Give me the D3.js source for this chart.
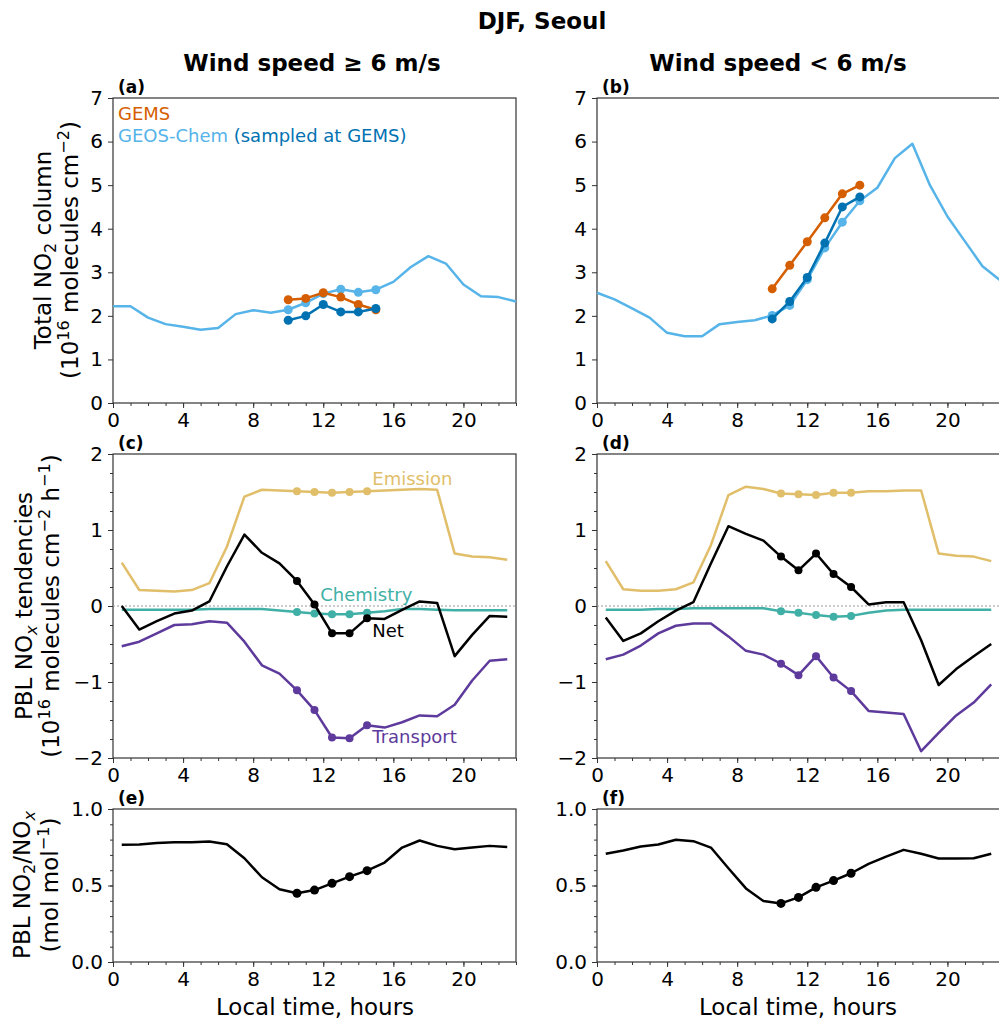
<!DOCTYPE html>
<html>
<head>
<meta charset="utf-8">
<script src="https://cdn.jsdelivr.net/npm/d3@7"></script>
<style>
body { margin: 0; background: #fff; }
text { font-family: "DejaVu Sans", sans-serif; fill: #000; }
</style>
</head>
<body>
<svg id="chart" width="999" height="1020"></svg>
<script>
// ---- data ----
const hours = [0,1,2,3,4,5,6,7,8,9,10,11,12,13,14,15,16,17,18,19,20,21,22,23];
const halfHours = [0.5,1.5,2.5,3.5,4.5,5.5,6.5,7.5,8.5,9.5,10.5,11.5,12.5,13.5,14.5,15.5,16.5,17.5,18.5,19.5,20.5,21.5,22.5];
const gemsHours = [10,11,12,13,14,15];
const xTicks = [0,4,8,12,16,20];

// (a) wind >= 6 m/s, total NO2 column
const gcA = [2.22,2.22,1.96,1.81,1.75,1.68,1.72,2.04,2.13,2.07,2.14,2.30,2.51,2.61,2.54,2.60,2.78,3.12,3.37,3.20,2.72,2.45,2.43,2.33];
const gemsA = [2.37,2.40,2.53,2.43,2.26,2.14];
const gcSampA = [1.90,2.00,2.26,2.09,2.09,2.17];
// (b) wind < 6 m/s
const gcB = [2.53,2.38,2.17,1.96,1.61,1.53,1.53,1.81,1.86,1.90,2.01,2.24,2.83,3.56,4.15,4.64,4.94,5.62,5.95,5.00,4.28,3.71,3.14,2.82];
const gemsB = [2.62,3.16,3.70,4.25,4.80,5.00];
const gcSampB = [1.93,2.33,2.88,3.67,4.50,4.73];

// (c) PBL NOx tendencies, wind >= 6
const emisC = [0.57,0.21,0.20,0.19,0.21,0.30,0.78,1.44,1.53,1.52,1.51,1.50,1.49,1.50,1.51,1.52,1.53,1.54,1.53,0.69,0.65,0.64,0.61];
const chemC = [-0.05,-0.05,-0.05,-0.05,-0.05,-0.04,-0.04,-0.04,-0.04,-0.06,-0.08,-0.10,-0.11,-0.11,-0.09,-0.07,-0.04,-0.04,-0.05,-0.055,-0.055,-0.055,-0.055];
const netC = [0.0,-0.31,-0.20,-0.10,-0.06,0.06,0.52,0.94,0.70,0.56,0.33,0.02,-0.36,-0.36,-0.16,-0.17,-0.05,0.06,0.04,-0.66,-0.38,-0.13,-0.14];
const transC = [-0.53,-0.47,-0.36,-0.25,-0.24,-0.20,-0.22,-0.47,-0.78,-0.89,-1.11,-1.37,-1.73,-1.74,-1.57,-1.60,-1.53,-1.44,-1.45,-1.30,-0.98,-0.72,-0.70];
// (d) wind < 6
const emisD = [0.59,0.22,0.20,0.20,0.22,0.31,0.80,1.46,1.57,1.54,1.48,1.47,1.46,1.49,1.49,1.51,1.51,1.52,1.52,0.69,0.66,0.65,0.59];
const chemD = [-0.05,-0.05,-0.05,-0.04,-0.04,-0.03,-0.03,-0.03,-0.03,-0.03,-0.07,-0.09,-0.12,-0.14,-0.13,-0.09,-0.06,-0.05,-0.05,-0.05,-0.05,-0.05,-0.05];
const netD = [-0.15,-0.46,-0.36,-0.20,-0.06,0.05,0.56,1.05,0.95,0.86,0.65,0.47,0.69,0.42,0.25,0.02,0.05,0.05,-0.45,-1.04,-0.83,-0.66,-0.50];
const transD = [-0.70,-0.64,-0.52,-0.36,-0.26,-0.23,-0.23,-0.40,-0.59,-0.64,-0.76,-0.91,-0.66,-0.94,-1.12,-1.38,-1.40,-1.42,-1.91,-1.67,-1.44,-1.27,-1.03];

// (e),(f) PBL NO2/NOx
const ratioE = [0.766,0.768,0.777,0.783,0.783,0.788,0.770,0.678,0.554,0.475,0.449,0.470,0.514,0.558,0.597,0.650,0.748,0.794,0.759,0.737,0.748,0.759,0.751];
const ratioF = [0.707,0.729,0.755,0.768,0.799,0.790,0.748,0.613,0.481,0.398,0.383,0.422,0.488,0.532,0.580,0.641,0.689,0.733,0.707,0.676,0.676,0.678,0.707];

// ---- layout ----
const svg = d3.select("#chart");
const colX = [[113, 516], [597, 1000]];
const rowY = [[98, 403], [454, 758], [809, 962]];
const cLightBlue = "#56b4e9", cDarkBlue = "#0072b2", cOrange = "#d55e00";
const cEmis = "#e1be6a", cChem = "#40b0a6", cTrans = "#5d3a9b";

const rows = [
  { domain: [0, 7], ticks: [0,1,2,3,4,5,6,7], fmt: d3.format("d"), minor: [] },
  { domain: [-2, 2], ticks: [-2,-1,0,1,2], fmt: d3.format("d"), minor: d3.range(-2, 2.01, 0.25) },
  { domain: [0, 1], ticks: [0,0.5,1], fmt: d3.format(".1f"), minor: d3.range(0, 1.01, 0.1) }
];

// text with sub/superscripts: parts = [[str, kind]]
function rich(sel, parts, size) {
  let shift = 0;
  parts.forEach(([s, kind, italic]) => {
    const target = kind === "sup" ? -0.38 * size : kind === "sub" ? 0.22 * size : 0;
    const t = sel.append("tspan").text(s).attr("dy", target - shift)
      .style("font-size", (kind ? size * 0.7 : size) + "px");
    if (italic) t.style("font-style", "italic");
    shift = target;
  });
}

function makePanel(col, row, label) {
  const [x0, x1] = colX[col];
  const [y0, y1] = rowY[row];
  const cfg = rows[row];
  const x = d3.scaleLinear().domain([0, 23]).range([x0, x1]);
  const y = d3.scaleLinear().domain(cfg.domain).range([y1, y0]);
  const g = svg.append("g");

  // minor ticks
  g.append("g").attr("transform", `translate(0,${y1})`)
    .call(d3.axisBottom(x).tickValues(hours).tickSize(3).tickFormat("").tickSizeOuter(0));
  if (cfg.minor.length)
    g.append("g").attr("transform", `translate(${x0},0)`)
      .call(d3.axisLeft(y).tickValues(cfg.minor).tickSize(3).tickFormat("").tickSizeOuter(0));
  // major ticks
  g.append("g").attr("class", "ax").attr("transform", `translate(0,${y1})`)
    .call(d3.axisBottom(x).tickValues(xTicks).tickSize(5).tickPadding(5).tickSizeOuter(0));
  g.append("g").attr("class", "ax").attr("transform", `translate(${x0},0)`)
    .call(d3.axisLeft(y).tickValues(cfg.ticks).tickFormat(cfg.fmt).tickSize(5).tickPadding(5).tickSizeOuter(0));
  g.selectAll(".domain").remove();
  g.selectAll(".tick line").attr("stroke", "#333").attr("stroke-width", 1);
  g.selectAll(".ax .tick text").style("font-size", "20px").style("font-family", "DejaVu Sans");

  g.append("rect").attr("x", x0).attr("y", y0).attr("width", x1 - x0).attr("height", y1 - y0)
    .attr("fill", "none").attr("stroke", "#333").attr("stroke-width", 1.2);

  svg.append("text").attr("x", x0 + 5).attr("y", y0 - 5)
    .style("font-size", "17px").style("font-weight", "bold").text(label);

  const plot = svg.append("g");
  return { x, y, plot };
}

function series(p, xs, ys, color, width, dotXs, dotYs, r) {
  const line = d3.line().x(d => p.x(d[0])).y(d => p.y(d[1]));
  p.plot.append("path").datum(d3.zip(xs, ys)).attr("d", line)
    .attr("fill", "none").attr("stroke", color).attr("stroke-width", width)
    .attr("stroke-linejoin", "round");
  if (dotXs) {
    p.plot.selectAll(null).data(d3.zip(dotXs, dotYs)).enter().append("circle")
      .attr("cx", d => p.x(d[0])).attr("cy", d => p.y(d[1])).attr("r", r).attr("fill", color);
  }
}

function pick(xs, ys, sel) { return sel.map(h => ys[xs.indexOf(h)]); }

// ---- row 1: total NO2 column ----
[[gcA, gemsA, gcSampA, "(a)"], [gcB, gemsB, gcSampB, "(b)"]].forEach(([gc, gems, samp, lab], i) => {
  const p = makePanel(i, 0, lab);
  series(p, hours, gc, cLightBlue, 2.5, gemsHours, pick(hours, gc, gemsHours), 4.5);
  series(p, gemsHours, gems, cOrange, 2.5, gemsHours, gems, 4.5);
  series(p, gemsHours, samp, cDarkBlue, 2.5, gemsHours, samp, 4.5);
});

// legend (a)
svg.append("text").attr("x", 118).attr("y", 120).style("font-size", "18px")
  .style("fill", cOrange).text("GEMS");
const lg = svg.append("text").attr("x", 118).attr("y", 142).style("font-size", "18px");
lg.append("tspan").style("fill", cLightBlue).text("GEOS-Chem ");
lg.append("tspan").style("fill", cDarkBlue).text("(sampled at GEMS)");

// ---- row 2: tendencies ----
const budgetHours = halfHours.slice(10, 15);
[[emisC, chemC, netC, transC, "(c)"], [emisD, chemD, netD, transD, "(d)"]].forEach(([em, ch, nt, tr, lab], i) => {
  const p = makePanel(i, 1, lab);
  p.plot.append("line").attr("x1", p.x(0)).attr("x2", p.x(23)).attr("y1", p.y(0)).attr("y2", p.y(0))
    .attr("stroke", "#999").attr("stroke-width", 1).attr("stroke-dasharray", "2,2");
  [[em, cEmis], [ch, cChem], [tr, cTrans], [nt, "#000"]].forEach(([vals, c]) => {
    series(p, halfHours, vals, c, 2.5, budgetHours, pick(halfHours, vals, budgetHours), 4);
  });
  if (i === 0) {
    const labs = [["Emission", cEmis, 14.8, 1.59], ["Chemistry", cChem, 11.83, 0.07],
                  ["Net", "#000", 14.8, -0.41], ["Transport", cTrans, 14.8, -1.80]];
    labs.forEach(([t, c, lx, ly]) => {
      svg.append("text").attr("x", p.x(lx)).attr("y", p.y(ly)).style("font-size", "18px")
        .style("fill", c).text(t);
    });
  }
});

// ---- row 3: NO2/NOx ----
[[ratioE, "(e)"], [ratioF, "(f)"]].forEach(([vals, lab], i) => {
  const p = makePanel(i, 2, lab);
  series(p, halfHours, vals, "#000", 2.5, budgetHours, pick(halfHours, vals, budgetHours), 4.5);
});

// ---- titles and axis labels ----
svg.append("text").attr("x", 542).attr("y", 29).attr("text-anchor", "middle")
  .style("font-size", "23px").style("font-weight", "bold").text("DJF, Seoul");
svg.append("text").attr("x", 312).attr("y", 71).attr("text-anchor", "middle")
  .style("font-size", "23px").style("font-weight", "bold").text("Wind speed \u2265 6 m/s");
svg.append("text").attr("x", 778).attr("y", 71).attr("text-anchor", "middle")
  .style("font-size", "23px").style("font-weight", "bold").text("Wind speed < 6 m/s");

[315, 798].forEach(cx => {
  svg.append("text").attr("x", cx).attr("y", 1015).attr("text-anchor", "middle")
    .style("font-size", "23px").text("Local time, hours");
});

function ylabel(cy, bx, parts) {
  const t = svg.append("text").attr("text-anchor", "middle")
    .attr("transform", `translate(${bx},${cy}) rotate(-90)`);
  rich(t, parts, 23);
}
const yl = [
  [250, 51, 78,
    [["Total NO"], ["2", "sub"], [" column"]],
    [["(10"], ["16", "sup"], [" molecules cm"], ["\u22122", "sup"], [")"]]],
  [606, 32, 59,
    [["PBL NO"], ["x", "sub", true], [" tendencies"]],
    [["(10"], ["16", "sup"], [" molecules cm"], ["\u22122", "sup"], [" h"], ["\u22121", "sup"], [")"]]],
  [885, 30, 58,
    [["PBL NO"], ["2", "sub"], ["/NO"], ["x", "sub", true]],
    [["(mol mol"], ["\u22121", "sup"], [")"]]]
];
yl.forEach(([cy, b1, b2, l1, l2]) => { ylabel(cy, b1, l1); ylabel(cy, b2, l2); });
</script>
</body>
</html>
